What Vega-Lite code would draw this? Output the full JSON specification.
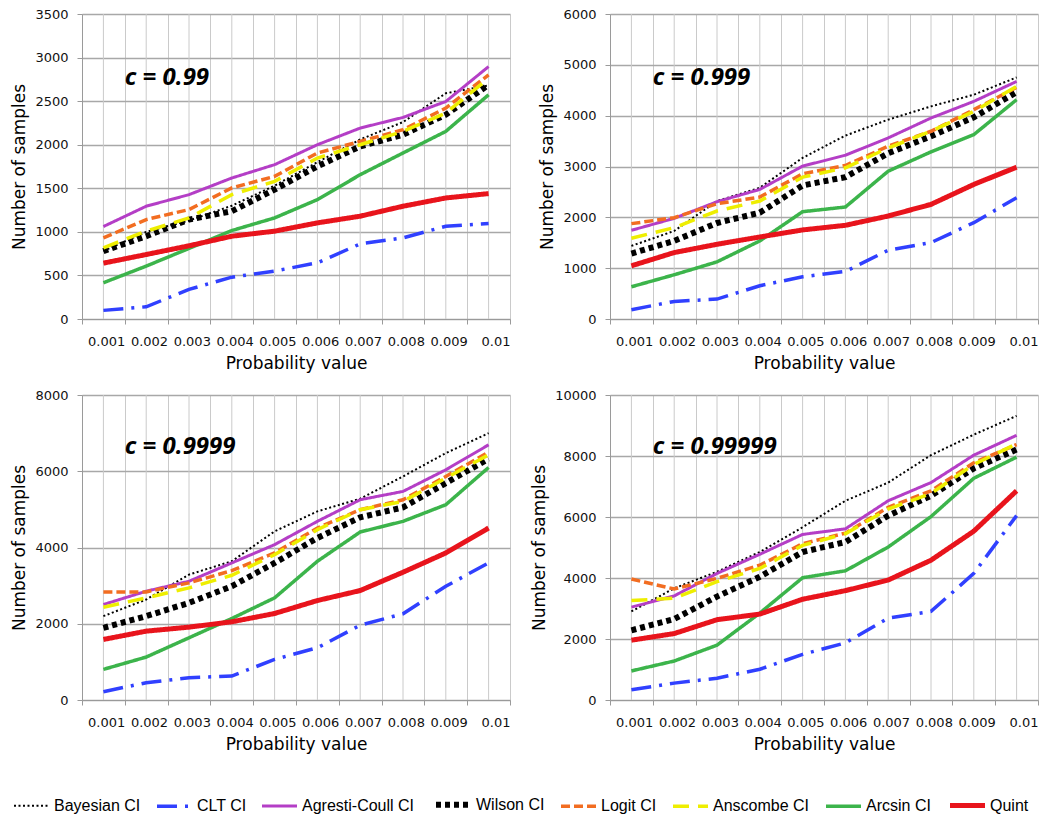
{
  "$schema": "https://vega.github.io/schema/vega-lite/v6.json",
  "padding": {"left": 10, "top": 8, "right": 6, "bottom": 4},
  "config": {
    "view": {"stroke": null},
    "axis": {
      "labelFont": "DejaVu Sans", "labelFontSize": 13, "labelColor": "#111",
      "titleFont": "DejaVu Sans", "titleFontSize": 17, "titleFontWeight": "normal", "titleColor": "#000",
      "domainColor": "#9a9a9a", "tickColor": "#9a9a9a", "tickSize": 5, "labelPadding": 9
    },
    "axisX": {"labelPadding": 17, "titlePadding": 7, "labelOffset": 21.4},
    "legend": {
      "labelFont": "Liberation Sans",
      "labelFontSize": 16, "labelColor": "#000", "labelLimit": 300
    },
    "line": {"strokeCap": "butt"}
  },
  "resolve": {"scale": {"color": "shared", "strokeDash": "shared", "strokeWidth": "shared"}, "legend": {"color": "shared", "strokeDash": "shared", "strokeWidth": "shared"}},
  "columns": 2,
  "spacing": {"row": 18, "column": 19},
  "datasets": {
    "d1": [
      {"p":"0.001","m":"Bayesian CI","n":780},{"p":"0.002","m":"Bayesian CI","n":1000},{"p":"0.003","m":"Bayesian CI","n":1130},{"p":"0.004","m":"Bayesian CI","n":1300},{"p":"0.005","m":"Bayesian CI","n":1530},{"p":"0.006","m":"Bayesian CI","n":1800},{"p":"0.007","m":"Bayesian CI","n":2060},{"p":"0.008","m":"Bayesian CI","n":2260},{"p":"0.009","m":"Bayesian CI","n":2590},{"p":"0.01","m":"Bayesian CI","n":2680},
      {"p":"0.001","m":"CLT CI","n":99},{"p":"0.002","m":"CLT CI","n":140},{"p":"0.003","m":"CLT CI","n":340},{"p":"0.004","m":"CLT CI","n":480},{"p":"0.005","m":"CLT CI","n":550},{"p":"0.006","m":"CLT CI","n":645},{"p":"0.007","m":"CLT CI","n":862},{"p":"0.008","m":"CLT CI","n":930},{"p":"0.009","m":"CLT CI","n":1065},{"p":"0.01","m":"CLT CI","n":1095},
      {"p":"0.001","m":"Agresti-Coull CI","n":1061},{"p":"0.002","m":"Agresti-Coull CI","n":1294},{"p":"0.003","m":"Agresti-Coull CI","n":1427},{"p":"0.004","m":"Agresti-Coull CI","n":1618},{"p":"0.005","m":"Agresti-Coull CI","n":1771},{"p":"0.006","m":"Agresti-Coull CI","n":2000},{"p":"0.007","m":"Agresti-Coull CI","n":2191},{"p":"0.008","m":"Agresti-Coull CI","n":2313},{"p":"0.009","m":"Agresti-Coull CI","n":2496},{"p":"0.01","m":"Agresti-Coull CI","n":2897},
      {"p":"0.001","m":"Wilson CI","n":779},{"p":"0.002","m":"Wilson CI","n":950},{"p":"0.003","m":"Wilson CI","n":1141},{"p":"0.004","m":"Wilson CI","n":1237},{"p":"0.005","m":"Wilson CI","n":1485},{"p":"0.006","m":"Wilson CI","n":1752},{"p":"0.007","m":"Wilson CI","n":1981},{"p":"0.008","m":"Wilson CI","n":2115},{"p":"0.009","m":"Wilson CI","n":2344},{"p":"0.01","m":"Wilson CI","n":2687},
      {"p":"0.001","m":"Logit CI","n":931},{"p":"0.002","m":"Logit CI","n":1141},{"p":"0.003","m":"Logit CI","n":1256},{"p":"0.004","m":"Logit CI","n":1504},{"p":"0.005","m":"Logit CI","n":1637},{"p":"0.006","m":"Logit CI","n":1905},{"p":"0.007","m":"Logit CI","n":2038},{"p":"0.008","m":"Logit CI","n":2172},{"p":"0.009","m":"Logit CI","n":2420},{"p":"0.01","m":"Logit CI","n":2802},
      {"p":"0.001","m":"Anscombe CI","n":817},{"p":"0.002","m":"Anscombe CI","n":1008},{"p":"0.003","m":"Anscombe CI","n":1160},{"p":"0.004","m":"Anscombe CI","n":1427},{"p":"0.005","m":"Anscombe CI","n":1580},{"p":"0.006","m":"Anscombe CI","n":1847},{"p":"0.007","m":"Anscombe CI","n":2000},{"p":"0.008","m":"Anscombe CI","n":2153},{"p":"0.009","m":"Anscombe CI","n":2363},{"p":"0.01","m":"Anscombe CI","n":2763},
      {"p":"0.001","m":"Arcsin CI","n":416},{"p":"0.002","m":"Arcsin CI","n":607},{"p":"0.003","m":"Arcsin CI","n":810},{"p":"0.004","m":"Arcsin CI","n":1015},{"p":"0.005","m":"Arcsin CI","n":1160},{"p":"0.006","m":"Arcsin CI","n":1370},{"p":"0.007","m":"Arcsin CI","n":1656},{"p":"0.008","m":"Arcsin CI","n":1905},{"p":"0.009","m":"Arcsin CI","n":2153},{"p":"0.01","m":"Arcsin CI","n":2573},
      {"p":"0.001","m":"Quint","n":641},{"p":"0.002","m":"Quint","n":740},{"p":"0.003","m":"Quint","n":840},{"p":"0.004","m":"Quint","n":950},{"p":"0.005","m":"Quint","n":1008},{"p":"0.006","m":"Quint","n":1103},{"p":"0.007","m":"Quint","n":1180},{"p":"0.008","m":"Quint","n":1294},{"p":"0.009","m":"Quint","n":1389},{"p":"0.01","m":"Quint","n":1439}
    ],
    "d2": [
      {"p":"0.001","m":"Bayesian CI","n":1438},{"p":"0.002","m":"Bayesian CI","n":1732},{"p":"0.003","m":"Bayesian CI","n":2320},{"p":"0.004","m":"Bayesian CI","n":2582},{"p":"0.005","m":"Bayesian CI","n":3170},{"p":"0.006","m":"Bayesian CI","n":3608},{"p":"0.007","m":"Bayesian CI","n":3922},{"p":"0.008","m":"Bayesian CI","n":4183},{"p":"0.009","m":"Bayesian CI","n":4412},{"p":"0.01","m":"Bayesian CI","n":4752},
      {"p":"0.001","m":"CLT CI","n":183},{"p":"0.002","m":"CLT CI","n":346},{"p":"0.003","m":"CLT CI","n":392},{"p":"0.004","m":"CLT CI","n":654},{"p":"0.005","m":"CLT CI","n":830},{"p":"0.006","m":"CLT CI","n":935},{"p":"0.007","m":"CLT CI","n":1353},{"p":"0.008","m":"CLT CI","n":1503},{"p":"0.009","m":"CLT CI","n":1895},{"p":"0.01","m":"CLT CI","n":2386},
      {"p":"0.001","m":"Agresti-Coull CI","n":1745},{"p":"0.002","m":"Agresti-Coull CI","n":1980},{"p":"0.003","m":"Agresti-Coull CI","n":2307},{"p":"0.004","m":"Agresti-Coull CI","n":2549},{"p":"0.005","m":"Agresti-Coull CI","n":3007},{"p":"0.006","m":"Agresti-Coull CI","n":3222},{"p":"0.007","m":"Agresti-Coull CI","n":3562},{"p":"0.008","m":"Agresti-Coull CI","n":3954},{"p":"0.009","m":"Agresti-Coull CI","n":4281},{"p":"0.01","m":"Agresti-Coull CI","n":4673},
      {"p":"0.001","m":"Wilson CI","n":1288},{"p":"0.002","m":"Wilson CI","n":1536},{"p":"0.003","m":"Wilson CI","n":1889},{"p":"0.004","m":"Wilson CI","n":2092},{"p":"0.005","m":"Wilson CI","n":2627},{"p":"0.006","m":"Wilson CI","n":2791},{"p":"0.007","m":"Wilson CI","n":3261},{"p":"0.008","m":"Wilson CI","n":3595},{"p":"0.009","m":"Wilson CI","n":3967},{"p":"0.01","m":"Wilson CI","n":4464},
      {"p":"0.001","m":"Logit CI","n":1876},{"p":"0.002","m":"Logit CI","n":1993},{"p":"0.003","m":"Logit CI","n":2268},{"p":"0.004","m":"Logit CI","n":2399},{"p":"0.005","m":"Logit CI","n":2856},{"p":"0.006","m":"Logit CI","n":3020},{"p":"0.007","m":"Logit CI","n":3399},{"p":"0.008","m":"Logit CI","n":3693},{"p":"0.009","m":"Logit CI","n":4118},{"p":"0.01","m":"Logit CI","n":4556},
      {"p":"0.001","m":"Anscombe CI","n":1588},{"p":"0.002","m":"Anscombe CI","n":1797},{"p":"0.003","m":"Anscombe CI","n":2124},{"p":"0.004","m":"Anscombe CI","n":2320},{"p":"0.005","m":"Anscombe CI","n":2791},{"p":"0.006","m":"Anscombe CI","n":2974},{"p":"0.007","m":"Anscombe CI","n":3366},{"p":"0.008","m":"Anscombe CI","n":3693},{"p":"0.009","m":"Anscombe CI","n":4085},{"p":"0.01","m":"Anscombe CI","n":4575},
      {"p":"0.001","m":"Arcsin CI","n":634},{"p":"0.002","m":"Arcsin CI","n":870},{"p":"0.003","m":"Arcsin CI","n":1124},{"p":"0.004","m":"Arcsin CI","n":1536},{"p":"0.005","m":"Arcsin CI","n":2111},{"p":"0.006","m":"Arcsin CI","n":2203},{"p":"0.007","m":"Arcsin CI","n":2908},{"p":"0.008","m":"Arcsin CI","n":3288},{"p":"0.009","m":"Arcsin CI","n":3627},{"p":"0.01","m":"Arcsin CI","n":4314},
      {"p":"0.001","m":"Quint","n":1046},{"p":"0.002","m":"Quint","n":1307},{"p":"0.003","m":"Quint","n":1470},{"p":"0.004","m":"Quint","n":1614},{"p":"0.005","m":"Quint","n":1752},{"p":"0.006","m":"Quint","n":1843},{"p":"0.007","m":"Quint","n":2026},{"p":"0.008","m":"Quint","n":2255},{"p":"0.009","m":"Quint","n":2647},{"p":"0.01","m":"Quint","n":2987}
    ],
    "d3": [
      {"p":"0.001","m":"Bayesian CI","n":2199},{"p":"0.002","m":"Bayesian CI","n":2635},{"p":"0.003","m":"Bayesian CI","n":3290},{"p":"0.004","m":"Bayesian CI","n":3639},{"p":"0.005","m":"Bayesian CI","n":4424},{"p":"0.006","m":"Bayesian CI","n":4948},{"p":"0.007","m":"Bayesian CI","n":5279},{"p":"0.008","m":"Bayesian CI","n":5864},{"p":"0.009","m":"Bayesian CI","n":6475},{"p":"0.01","m":"Bayesian CI","n":6998},
      {"p":"0.001","m":"CLT CI","n":218},{"p":"0.002","m":"CLT CI","n":454},{"p":"0.003","m":"CLT CI","n":585},{"p":"0.004","m":"CLT CI","n":628},{"p":"0.005","m":"CLT CI","n":1065},{"p":"0.006","m":"CLT CI","n":1370},{"p":"0.007","m":"CLT CI","n":1963},{"p":"0.008","m":"CLT CI","n":2260},{"p":"0.009","m":"CLT CI","n":2984},{"p":"0.01","m":"CLT CI","n":3595},
      {"p":"0.001","m":"Agresti-Coull CI","n":2504},{"p":"0.002","m":"Agresti-Coull CI","n":2853},{"p":"0.003","m":"Agresti-Coull CI","n":3115},{"p":"0.004","m":"Agresti-Coull CI","n":3595},{"p":"0.005","m":"Agresti-Coull CI","n":4075},{"p":"0.006","m":"Agresti-Coull CI","n":4686},{"p":"0.007","m":"Agresti-Coull CI","n":5253},{"p":"0.008","m":"Agresti-Coull CI","n":5471},{"p":"0.009","m":"Agresti-Coull CI","n":6038},{"p":"0.01","m":"Agresti-Coull CI","n":6693},
      {"p":"0.001","m":"Wilson CI","n":1894},{"p":"0.002","m":"Wilson CI","n":2199},{"p":"0.003","m":"Wilson CI","n":2548},{"p":"0.004","m":"Wilson CI","n":2984},{"p":"0.005","m":"Wilson CI","n":3595},{"p":"0.006","m":"Wilson CI","n":4250},{"p":"0.007","m":"Wilson CI","n":4791},{"p":"0.008","m":"Wilson CI","n":5052},{"p":"0.009","m":"Wilson CI","n":5689},{"p":"0.01","m":"Wilson CI","n":6326},
      {"p":"0.001","m":"Logit CI","n":2836},{"p":"0.002","m":"Logit CI","n":2836},{"p":"0.003","m":"Logit CI","n":3072},{"p":"0.004","m":"Logit CI","n":3394},{"p":"0.005","m":"Logit CI","n":3857},{"p":"0.006","m":"Logit CI","n":4511},{"p":"0.007","m":"Logit CI","n":4991},{"p":"0.008","m":"Logit CI","n":5253},{"p":"0.009","m":"Logit CI","n":5864},{"p":"0.01","m":"Logit CI","n":6501},
      {"p":"0.001","m":"Anscombe CI","n":2435},{"p":"0.002","m":"Anscombe CI","n":2679},{"p":"0.003","m":"Anscombe CI","n":2941},{"p":"0.004","m":"Anscombe CI","n":3272},{"p":"0.005","m":"Anscombe CI","n":3813},{"p":"0.006","m":"Anscombe CI","n":4468},{"p":"0.007","m":"Anscombe CI","n":4991},{"p":"0.008","m":"Anscombe CI","n":5209},{"p":"0.009","m":"Anscombe CI","n":5820},{"p":"0.01","m":"Anscombe CI","n":6431},
      {"p":"0.001","m":"Arcsin CI","n":803},{"p":"0.002","m":"Arcsin CI","n":1126},{"p":"0.003","m":"Arcsin CI","n":1632},{"p":"0.004","m":"Arcsin CI","n":2138},{"p":"0.005","m":"Arcsin CI","n":2679},{"p":"0.006","m":"Arcsin CI","n":3639},{"p":"0.007","m":"Arcsin CI","n":4407},{"p":"0.008","m":"Arcsin CI","n":4686},{"p":"0.009","m":"Arcsin CI","n":5122},{"p":"0.01","m":"Arcsin CI","n":6099},
      {"p":"0.001","m":"Quint","n":1588},{"p":"0.002","m":"Quint","n":1806},{"p":"0.003","m":"Quint","n":1911},{"p":"0.004","m":"Quint","n":2051},{"p":"0.005","m":"Quint","n":2269},{"p":"0.006","m":"Quint","n":2609},{"p":"0.007","m":"Quint","n":2871},{"p":"0.008","m":"Quint","n":3351},{"p":"0.009","m":"Quint","n":3857},{"p":"0.01","m":"Quint","n":4511}
    ],
    "d4": [
      {"p":"0.001","m":"Bayesian CI","n":2904},{"p":"0.002","m":"Bayesian CI","n":3662},{"p":"0.003","m":"Bayesian CI","n":4204},{"p":"0.004","m":"Bayesian CI","n":4854},{"p":"0.005","m":"Bayesian CI","n":5666},{"p":"0.006","m":"Bayesian CI","n":6533},{"p":"0.007","m":"Bayesian CI","n":7129},{"p":"0.008","m":"Bayesian CI","n":8028},{"p":"0.009","m":"Bayesian CI","n":8700},{"p":"0.01","m":"Bayesian CI","n":9317},
      {"p":"0.001","m":"CLT CI","n":336},{"p":"0.002","m":"CLT CI","n":553},{"p":"0.003","m":"CLT CI","n":715},{"p":"0.004","m":"CLT CI","n":1008},{"p":"0.005","m":"CLT CI","n":1495},{"p":"0.006","m":"CLT CI","n":1874},{"p":"0.007","m":"CLT CI","n":2687},{"p":"0.008","m":"CLT CI","n":2904},{"p":"0.009","m":"CLT CI","n":4150},{"p":"0.01","m":"CLT CI","n":6045},
      {"p":"0.001","m":"Agresti-Coull CI","n":3044},{"p":"0.002","m":"Agresti-Coull CI","n":3413},{"p":"0.003","m":"Agresti-Coull CI","n":4149},{"p":"0.004","m":"Agresti-Coull CI","n":4778},{"p":"0.005","m":"Agresti-Coull CI","n":5428},{"p":"0.006","m":"Agresti-Coull CI","n":5612},{"p":"0.007","m":"Agresti-Coull CI","n":6533},{"p":"0.008","m":"Agresti-Coull CI","n":7129},{"p":"0.009","m":"Agresti-Coull CI","n":8028},{"p":"0.01","m":"Agresti-Coull CI","n":8678},
      {"p":"0.001","m":"Wilson CI","n":2286},{"p":"0.002","m":"Wilson CI","n":2654},{"p":"0.003","m":"Wilson CI","n":3391},{"p":"0.004","m":"Wilson CI","n":4041},{"p":"0.005","m":"Wilson CI","n":4854},{"p":"0.006","m":"Wilson CI","n":5179},{"p":"0.007","m":"Wilson CI","n":6045},{"p":"0.008","m":"Wilson CI","n":6696},{"p":"0.009","m":"Wilson CI","n":7595},{"p":"0.01","m":"Wilson CI","n":8212},
      {"p":"0.001","m":"Logit CI","n":3965},{"p":"0.002","m":"Logit CI","n":3640},{"p":"0.003","m":"Logit CI","n":3987},{"p":"0.004","m":"Logit CI","n":4420},{"p":"0.005","m":"Logit CI","n":5125},{"p":"0.006","m":"Logit CI","n":5471},{"p":"0.007","m":"Logit CI","n":6316},{"p":"0.008","m":"Logit CI","n":6858},{"p":"0.009","m":"Logit CI","n":7779},{"p":"0.01","m":"Logit CI","n":8375},
      {"p":"0.001","m":"Anscombe CI","n":3261},{"p":"0.002","m":"Anscombe CI","n":3337},{"p":"0.003","m":"Anscombe CI","n":3879},{"p":"0.004","m":"Anscombe CI","n":4312},{"p":"0.005","m":"Anscombe CI","n":5070},{"p":"0.006","m":"Anscombe CI","n":5450},{"p":"0.007","m":"Anscombe CI","n":6262},{"p":"0.008","m":"Anscombe CI","n":6771},{"p":"0.009","m":"Anscombe CI","n":7725},{"p":"0.01","m":"Anscombe CI","n":8397},
      {"p":"0.001","m":"Arcsin CI","n":953},{"p":"0.002","m":"Arcsin CI","n":1278},{"p":"0.003","m":"Arcsin CI","n":1798},{"p":"0.004","m":"Arcsin CI","n":2849},{"p":"0.005","m":"Arcsin CI","n":4009},{"p":"0.006","m":"Arcsin CI","n":4236},{"p":"0.007","m":"Arcsin CI","n":5016},{"p":"0.008","m":"Arcsin CI","n":6013},{"p":"0.009","m":"Arcsin CI","n":7270},{"p":"0.01","m":"Arcsin CI","n":7963},
      {"p":"0.001","m":"Quint","n":1961},{"p":"0.002","m":"Quint","n":2178},{"p":"0.003","m":"Quint","n":2633},{"p":"0.004","m":"Quint","n":2817},{"p":"0.005","m":"Quint","n":3304},{"p":"0.006","m":"Quint","n":3586},{"p":"0.007","m":"Quint","n":3933},{"p":"0.008","m":"Quint","n":4583},{"p":"0.009","m":"Quint","n":5536},{"p":"0.01","m":"Quint","n":6858}
    ]
  },
  "concat": [
    {
      "width": 428, "height": 305,
      "data": {"name": "d1"},
      "layer": [
        {"mark": {"type": "rule", "color": "#cacaca", "strokeWidth": 1},
         "transform": [{"aggregate": [{"op": "count", "as": "k"}], "groupby": ["p"]}],
         "encoding": {"x": {"field": "p", "type": "ordinal", "bandPosition": 0.5, "scale": {"type": "band", "paddingInner": 0, "paddingOuter": 0}}}},
        {"mark": {"type": "line"},
         "encoding": {
           "x": {"field": "p", "type": "ordinal", "bandPosition": 0.5, "scale": {"type": "band", "paddingInner": 0, "paddingOuter": 0},
                 "axis": {"title": "Probability value", "labelAngle": 0, "tickBand": "extent", "grid": true, "gridColor": "#cacaca"}},
           "y": {"field": "n", "type": "quantitative", "scale": {"domain": [0, 3500], "nice": false},
                 "axis": {"title": "Number of samples", "values": [0,500,1000,1500,2000,2500,3000,3500], "format": "d", "grid": true, "gridColor": "#a8a8a8", "gridWidth": 1.3, "titlePadding": 6}},
           "color": {"field": "m", "type": "nominal",
             "scale": {"domain": ["Bayesian CI","CLT CI","Agresti-Coull CI","Wilson CI","Logit CI","Anscombe CI","Arcsin CI","Quint"],
                       "range": ["#000000","#3040ff","#b43ec6","#000000","#f26d21","#eeee00","#3cb44b","#e8141c"]},
             "legend": {"title": null, "orient": "none", "legendX": -71, "legendY": 770, "direction": "horizontal", "columns": 8, "symbolType": "stroke", "symbolSize": 1225, "columnPadding": 9, "labelOffset": 2}},
           "strokeDash": {"field": "m", "type": "nominal",
             "scale": {"domain": ["Bayesian CI","CLT CI","Agresti-Coull CI","Wilson CI","Logit CI","Anscombe CI","Arcsin CI","Quint"],
                       "range": [[2,2.5],[20,8,3,8],[1,0],[5,4],[9,4],[16,9],[1,0],[1,0]]}},
           "strokeWidth": {"field": "m", "type": "nominal",
             "scale": {"type": "ordinal", "domain": ["Bayesian CI","CLT CI","Agresti-Coull CI","Wilson CI","Logit CI","Anscombe CI","Arcsin CI","Quint"],
                       "range": [2, 3.5, 3, 6, 3.5, 3.5, 3.5, 5]}}
         }},
        {"data": {"values": [{}]},
         "mark": {"type": "text", "text": "c = 0.99", "font": "Open Sans", "fontStyle": "italic", "fontWeight": "bold", "fontSize": 24, "align": "left", "baseline": "middle", "color": "#000"},
         "encoding": {"x": {"datum": "0.002", "type": "ordinal", "bandPosition": 0}, "y": {"datum": 2760, "type": "quantitative"}}}
      ]
    },
    {
      "width": 428, "height": 305,
      "data": {"name": "d2"},
      "layer": [
        {"mark": {"type": "rule", "color": "#cacaca", "strokeWidth": 1},
         "transform": [{"aggregate": [{"op": "count", "as": "k"}], "groupby": ["p"]}],
         "encoding": {"x": {"field": "p", "type": "ordinal", "bandPosition": 0.5, "scale": {"type": "band", "paddingInner": 0, "paddingOuter": 0}}}},
        {"mark": {"type": "line"},
         "encoding": {
           "x": {"field": "p", "type": "ordinal", "bandPosition": 0.5, "scale": {"type": "band", "paddingInner": 0, "paddingOuter": 0},
                 "axis": {"title": "Probability value", "labelAngle": 0, "tickBand": "extent", "grid": true, "gridColor": "#cacaca"}},
           "y": {"field": "n", "type": "quantitative", "scale": {"domain": [0, 6000], "nice": false},
                 "axis": {"title": "Number of samples", "values": [0,1000,2000,3000,4000,5000,6000], "format": "d", "grid": true, "gridColor": "#a8a8a8", "gridWidth": 1.3, "titlePadding": 6}},
           "color": {"field": "m", "type": "nominal",
             "scale": {"domain": ["Bayesian CI","CLT CI","Agresti-Coull CI","Wilson CI","Logit CI","Anscombe CI","Arcsin CI","Quint"],
                       "range": ["#000000","#3040ff","#b43ec6","#000000","#f26d21","#eeee00","#3cb44b","#e8141c"]}},
           "strokeDash": {"field": "m", "type": "nominal",
             "scale": {"domain": ["Bayesian CI","CLT CI","Agresti-Coull CI","Wilson CI","Logit CI","Anscombe CI","Arcsin CI","Quint"],
                       "range": [[2,2.5],[20,8,3,8],[1,0],[5,4],[9,4],[16,9],[1,0],[1,0]]}},
           "strokeWidth": {"field": "m", "type": "nominal",
             "scale": {"type": "ordinal", "domain": ["Bayesian CI","CLT CI","Agresti-Coull CI","Wilson CI","Logit CI","Anscombe CI","Arcsin CI","Quint"],
                       "range": [2, 3.5, 3, 6, 3.5, 3.5, 3.5, 5]}}
         }},
        {"data": {"values": [{}]},
         "mark": {"type": "text", "text": "c = 0.999", "font": "Open Sans", "fontStyle": "italic", "fontWeight": "bold", "fontSize": 24, "align": "left", "baseline": "middle", "color": "#000"},
         "encoding": {"x": {"datum": "0.002", "type": "ordinal", "bandPosition": 0}, "y": {"datum": 4740, "type": "quantitative"}}}
      ]
    },
    {
      "width": 428, "height": 305,
      "data": {"name": "d3"},
      "layer": [
        {"mark": {"type": "rule", "color": "#cacaca", "strokeWidth": 1},
         "transform": [{"aggregate": [{"op": "count", "as": "k"}], "groupby": ["p"]}],
         "encoding": {"x": {"field": "p", "type": "ordinal", "bandPosition": 0.5, "scale": {"type": "band", "paddingInner": 0, "paddingOuter": 0}}}},
        {"mark": {"type": "line"},
         "encoding": {
           "x": {"field": "p", "type": "ordinal", "bandPosition": 0.5, "scale": {"type": "band", "paddingInner": 0, "paddingOuter": 0},
                 "axis": {"title": "Probability value", "labelAngle": 0, "tickBand": "extent", "grid": true, "gridColor": "#cacaca"}},
           "y": {"field": "n", "type": "quantitative", "scale": {"domain": [0, 8000], "nice": false},
                 "axis": {"title": "Number of samples", "values": [0,1000,2000,3000,4000,5000,6000,7000,8000], "format": "d", "grid": true, "gridColor": "#a8a8a8", "gridWidth": 1.3, "titlePadding": 6}},
           "color": {"field": "m", "type": "nominal",
             "scale": {"domain": ["Bayesian CI","CLT CI","Agresti-Coull CI","Wilson CI","Logit CI","Anscombe CI","Arcsin CI","Quint"],
                       "range": ["#000000","#3040ff","#b43ec6","#000000","#f26d21","#eeee00","#3cb44b","#e8141c"]}},
           "strokeDash": {"field": "m", "type": "nominal",
             "scale": {"domain": ["Bayesian CI","CLT CI","Agresti-Coull CI","Wilson CI","Logit CI","Anscombe CI","Arcsin CI","Quint"],
                       "range": [[2,2.5],[20,8,3,8],[1,0],[5,4],[9,4],[16,9],[1,0],[1,0]]}},
           "strokeWidth": {"field": "m", "type": "nominal",
             "scale": {"type": "ordinal", "domain": ["Bayesian CI","CLT CI","Agresti-Coull CI","Wilson CI","Logit CI","Anscombe CI","Arcsin CI","Quint"],
                       "range": [2, 3.5, 3, 6, 3.5, 3.5, 3.5, 5]}}
         }},
        {"data": {"values": [{}]},
         "mark": {"type": "text", "text": "c = 0.9999", "font": "Open Sans", "fontStyle": "italic", "fontWeight": "bold", "fontSize": 24, "align": "left", "baseline": "middle", "color": "#000"},
         "encoding": {"x": {"datum": "0.002", "type": "ordinal", "bandPosition": 0}, "y": {"datum": 6640, "type": "quantitative"}}}
      ]
    },
    {
      "width": 428, "height": 305,
      "data": {"name": "d4"},
      "layer": [
        {"mark": {"type": "rule", "color": "#cacaca", "strokeWidth": 1},
         "transform": [{"aggregate": [{"op": "count", "as": "k"}], "groupby": ["p"]}],
         "encoding": {"x": {"field": "p", "type": "ordinal", "bandPosition": 0.5, "scale": {"type": "band", "paddingInner": 0, "paddingOuter": 0}}}},
        {"mark": {"type": "line"},
         "encoding": {
           "x": {"field": "p", "type": "ordinal", "bandPosition": 0.5, "scale": {"type": "band", "paddingInner": 0, "paddingOuter": 0},
                 "axis": {"title": "Probability value", "labelAngle": 0, "tickBand": "extent", "grid": true, "gridColor": "#cacaca"}},
           "y": {"field": "n", "type": "quantitative", "scale": {"domain": [0, 10000], "nice": false},
                 "axis": {"title": "Number of samples", "values": [0,1000,2000,3000,4000,5000,6000,7000,8000,9000,10000], "format": "d", "grid": true, "gridColor": "#a8a8a8", "gridWidth": 1.3, "titlePadding": 6}},
           "color": {"field": "m", "type": "nominal",
             "scale": {"domain": ["Bayesian CI","CLT CI","Agresti-Coull CI","Wilson CI","Logit CI","Anscombe CI","Arcsin CI","Quint"],
                       "range": ["#000000","#3040ff","#b43ec6","#000000","#f26d21","#eeee00","#3cb44b","#e8141c"]}},
           "strokeDash": {"field": "m", "type": "nominal",
             "scale": {"domain": ["Bayesian CI","CLT CI","Agresti-Coull CI","Wilson CI","Logit CI","Anscombe CI","Arcsin CI","Quint"],
                       "range": [[2,2.5],[20,8,3,8],[1,0],[5,4],[9,4],[16,9],[1,0],[1,0]]}},
           "strokeWidth": {"field": "m", "type": "nominal",
             "scale": {"type": "ordinal", "domain": ["Bayesian CI","CLT CI","Agresti-Coull CI","Wilson CI","Logit CI","Anscombe CI","Arcsin CI","Quint"],
                       "range": [2, 3.5, 3, 6, 3.5, 3.5, 3.5, 5]}}
         }},
        {"data": {"values": [{}]},
         "mark": {"type": "text", "text": "c = 0.99999", "font": "Open Sans", "fontStyle": "italic", "fontWeight": "bold", "fontSize": 24, "align": "left", "baseline": "middle", "color": "#000"},
         "encoding": {"x": {"datum": "0.002", "type": "ordinal", "bandPosition": 0}, "y": {"datum": 8310, "type": "quantitative"}}}
      ]
    }
  ]
}
